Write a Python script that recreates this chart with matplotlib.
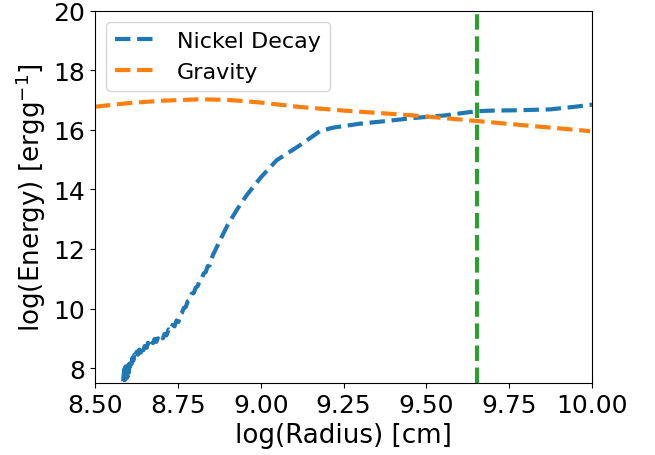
import matplotlib
matplotlib.use("Agg")
import matplotlib.pyplot as plt

# Nickel decay curve (log radius, log energy) - noisy at small radii
ni_x = [8.585, 8.588, 8.590, 8.592, 8.594, 8.596, 8.598, 8.600, 8.602, 8.604, 8.606,
        8.608, 8.611, 8.613, 8.616, 8.619, 8.622, 8.626, 8.630, 8.634, 8.638, 8.642,
        8.646, 8.650, 8.656, 8.660, 8.665, 8.670, 8.675, 8.680, 8.685, 8.690, 8.696,
        8.700, 8.705, 8.710, 8.716, 8.722, 8.728, 8.734, 8.740, 8.746, 8.752, 8.757,
        8.762, 8.768, 8.774, 8.780, 8.786, 8.792, 8.798, 8.804, 8.810, 8.816, 8.822,
        8.828, 8.834, 8.840, 8.846, 8.852, 8.856, 8.880, 8.900, 8.930, 8.958, 9.000,
        9.048, 9.119, 9.179, 9.22, 9.30, 9.38, 9.46, 9.55, 9.652, 9.70, 9.773, 9.873,
        9.95, 10.0]
ni_y = [7.55, 7.95, 7.60, 8.05, 7.65, 8.00, 7.70, 8.10, 7.80, 8.15, 8.05,
        8.25, 8.15, 8.35, 8.25, 8.45, 8.35, 8.55, 8.45, 8.62, 8.52, 8.70,
        8.60, 8.74, 8.68, 8.85, 8.76, 8.92, 8.84, 8.98, 8.88, 9.00, 8.92,
        9.05, 9.00, 9.15, 9.10, 9.30, 9.25, 9.45, 9.40, 9.60, 9.55, 9.79,
        9.85, 10.02, 10.05, 10.25, 10.30, 10.50, 10.52, 10.70, 10.75, 10.95, 11.00,
        11.18, 11.22, 11.42, 11.45, 11.68, 11.80, 12.35, 12.80, 13.35, 13.81, 14.40,
        14.98, 15.49, 15.96, 16.08, 16.21, 16.30, 16.40, 16.48, 16.63, 16.65, 16.66, 16.69,
        16.78, 16.85]

# Gravity curve
gr_x = [8.50, 8.60, 8.70, 8.817, 8.90, 9.00, 9.119, 9.25, 9.42, 9.50, 9.652, 9.80, 9.994]
gr_y = [16.78, 16.90, 16.98, 17.03, 17.01, 16.92, 16.77, 16.65, 16.52, 16.45, 16.30, 16.15, 15.96]

vline_x = 9.653

fig = plt.figure(figsize=(6.55, 4.56), dpi=100)
ax = fig.add_axes([0.145, 0.158, 0.759, 0.816])

ax.plot(ni_x, ni_y, '--', color='C0', lw=3, label='Nickel Decay')
ax.plot(gr_x, gr_y, '--', color='C1', lw=3, label='Gravity')
ax.axvline(vline_x, color='C2', ls='--', lw=3)

ax.set_xlim(8.5, 10.0)
ax.set_ylim(7.5, 20)
ax.set_xticks([8.5, 8.75, 9.0, 9.25, 9.5, 9.75, 10.0])
ax.set_xticklabels(['8.50', '8.75', '9.00', '9.25', '9.50', '9.75', '10.00'])
ax.set_yticks([8, 10, 12, 14, 16, 18, 20])
ax.tick_params(labelsize=18)
ax.set_xlabel('log(Radius) [cm]', fontsize=18.8)
ax.set_ylabel(r'log(Energy) [$\mathrm{erg g^{-1}}$]', fontsize=18.8)
ax.legend(loc='upper left', fontsize=16)

fig.savefig('out.png', dpi=100)
